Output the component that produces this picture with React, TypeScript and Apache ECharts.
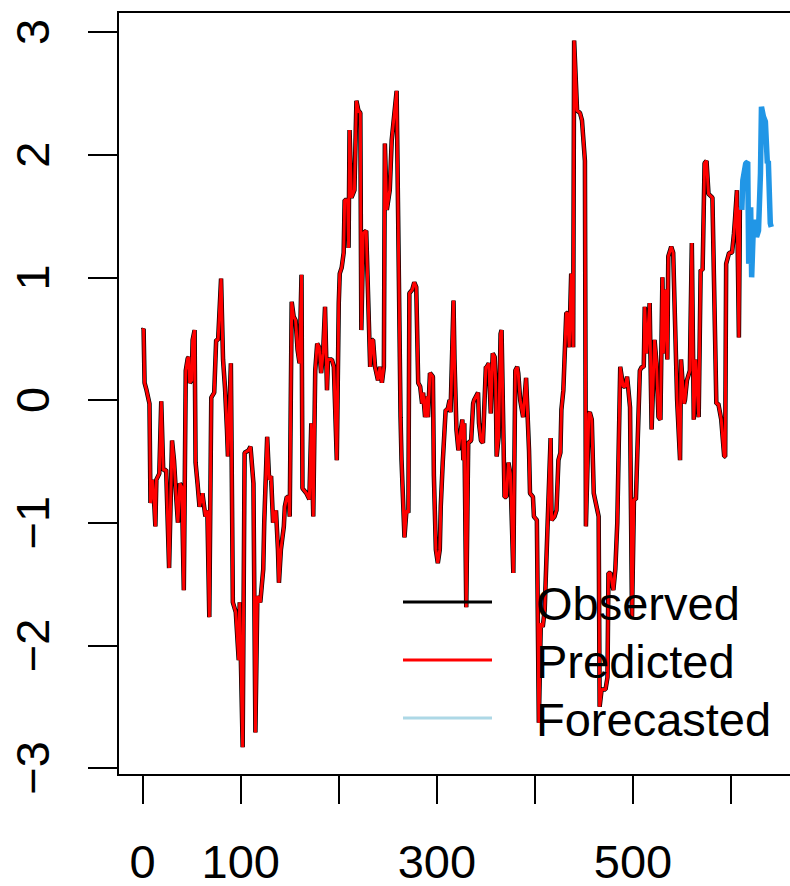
import React, { useEffect, useRef } from "react";
import * as echarts from "echarts";

const xTickValues = [0, 100, 200, 300, 400, 500, 600];
const xLabelValues = [0, 100, 300, 500];
const yTickValues = [-3, -2, -1, 0, 1, 2, 3];

const legendNames = ["Observed", "Predicted", "Forecasted"];
const legendColors = ["#000000", "#FF0000", "#ADD8E6"];

const observedPoints: [number, number][] = [
  [0, 0.57], [1, 0.58], [2, 0.14], [4, 0.08], [7, -0.03], [8, -0.84], [10, -0.65], [12, -0.87], [13, -1.03], [14, -0.65],
  [17, -0.6], [19, -0.01], [21, -0.57], [24, -0.57], [27, -1.37], [30, -0.33], [32, -0.49], [34, -0.76], [36, -1.0], [38, -0.68],
  [40, -0.71], [42, -1.55], [44, 0.24], [46, 0.34], [47, 0.35], [48, 0.14], [50, 0.16], [51, 0.49], [53, 0.57], [54, -0.51],
  [56, -0.68], [58, -0.87], [61, -0.76], [64, -0.95], [66, -0.9], [68, -1.77], [70, 0.02], [73, 0.06], [75, 0.49], [77, 0.49],
  [80, 0.99], [82, 0.33], [84, 0.1], [86, -0.24], [87, -0.46], [90, 0.3], [92, -1.65], [95, -1.73], [98, -2.12], [99, -1.65],
  [102, -2.83], [104, -0.43], [108, -0.41], [110, -0.38], [113, -0.68], [115, -2.71], [117, -1.6], [120, -1.65], [123, -1.38], [124, -1.0],
  [127, -0.3], [129, -0.65], [131, -0.62], [133, -1.0], [136, -0.9], [138, -1.22], [139, -1.49], [141, -1.22], [144, -1.03], [145, -0.87],
  [147, -0.79], [149, -0.79], [150, -0.95], [152, 0.8], [154, 0.68], [156, 0.65], [158, 0.41], [160, 0.3], [162, 1.02], [163, -0.72],
  [167, -0.76], [170, -0.81], [172, -0.19], [174, -0.95], [176, 0.24], [178, 0.46], [180, 0.43], [182, 0.22], [184, 0.38], [186, 0.76],
  [188, 0.08], [189, 0.33], [193, 0.33], [195, 0.27], [198, -0.49], [200, 0.79], [201, 1.03], [203, 1.08], [205, 1.2], [206, 1.63],
  [209, 1.63], [210, 1.24], [211, 2.2], [213, 1.65], [216, 1.71], [218, 2.44], [220, 2.36], [222, 2.34], [223, 0.57], [225, 1.36],
  [228, 1.38], [232, 0.27], [234, 0.49], [235, 0.49], [237, 0.27], [240, 0.16], [242, 0.27], [244, 0.14], [246, 0.27], [247, 2.09],
  [249, 1.55], [252, 1.71], [254, 2.12], [259, 2.52], [263, -0.14], [264, -0.49], [267, -1.12], [269, -0.9], [271, -0.92], [272, 0.87],
  [275, 0.9], [277, 0.96], [279, 0.92], [281, 0.14], [283, 0.11], [285, -0.03], [286, 0.06], [288, -0.14], [290, 0.03], [291, -0.14],
  [293, 0.22], [296, 0.19], [297, -0.62], [299, -1.22], [301, -1.33], [303, -1.22], [304, -0.87], [306, -0.51], [309, -0.08], [311, -0.08],
  [313, 0], [314, -0.1], [317, 0.81], [318, 0.33], [320, -0.24], [322, -0.41], [324, -0.27], [326, -0.16], [327, -0.49], [328, -0.19],
  [330, -1.69], [332, -0.35], [335, -0.33], [337, -0.03], [338, 0], [342, 0.06], [343, -0.19], [345, -0.33], [347, -0.35], [350, 0.27],
  [351, 0.27], [353, 0.3], [355, -0.11], [357, 0.38], [359, 0.35], [360, 0.14], [361, -0.46], [363, -0.3], [365, 0.54], [366, 0.57],
  [369, -0.79], [371, -0.79], [373, -0.51], [375, -0.6], [378, -1.41], [380, 0.24], [382, 0.27], [383, 0.22], [385, 0], [388, -0.14],
  [391, 0.18], [394, -0.41], [395, -0.76], [398, -0.79], [399, -0.95], [402, -0.98], [404, -2.63], [406, -1.82], [408, -1.85], [410, -1.71],
  [413, -1.0], [416, -0.31], [417, -0.98], [420, -0.95], [422, -0.9], [424, -0.49], [426, -0.43], [427, -0.08], [429, 0.08], [432, 0.71],
  [433, 0.71], [435, 0.43], [437, 1.03], [439, 0.43], [440, 2.93], [443, 2.36], [446, 2.34], [448, 2.28], [451, 1.95], [452, -1.03],
  [455, -0.11], [456, -0.1], [458, -0.16], [460, -0.76], [465, -0.95], [466, -2.5], [468, -2.36], [472, -2.36], [474, -2.26], [475, -1.41],
  [477, -1.41], [480, -1.55], [482, -1.38], [484, -1.0], [487, 0.27], [490, 0.11], [492, 0.11], [494, 0.19], [495, 0.11], [497, -0.06],
  [499, -1.77], [501, -0.81], [503, -0.81], [507, 0.24], [509, 0.27], [511, 0.27], [512, 0.76], [514, 0.38], [517, 0.79], [519, -0.24],
  [522, 0.49], [524, 0.3], [526, -0.14], [528, -0.16], [530, 1.0], [531, 0.38], [533, 0.9], [535, 0.33], [536, 1.17], [539, 1.25],
  [541, 1.2], [545, 0], [548, -0.49], [549, 0.33], [552, -0.03], [553, 0], [555, 0.16], [558, 0.24], [560, 1.28], [562, -0.16],
  [564, 0.33], [567, -0.14], [569, 1.06], [571, 1.06], [573, 1.93], [575, 1.95], [577, 1.68], [581, 1.65], [585, -0.03], [587, -0.03],
  [590, -0.16], [593, -0.46], [594, -0.46], [595, 1.11], [598, 1.2], [601, 1.2], [603, 1.36], [604, 1.47], [606, 1.71], [608, 0.51],
  [609, 1.57], [611, 1.55],
];

// predicted (fitted) values coincide with the observed ones at this resolution
const predictedPoints: [number, number][] = observedPoints.map((p) => [p[0], p[1]]);

const forecastPoints: [number, number][] = [
  [611, 1.55], [612, 1.79], [615, 1.93], [617, 1.94], [618, 1.11], [620, 1.57], [621, 1.0], [623, 1.47], [626, 1.33], [628, 1.38],
  [630, 1.85], [631, 2.39], [633, 2.31], [635, 2.27], [637, 1.93], [638, 1.95], [640, 1.44], [641, 1.41],
];

const FONT = "'Liberation Sans', Arial, Helvetica, sans-serif";
const FS = 47;

export default function App() {
  const ref = useRef<HTMLDivElement>(null);
  useEffect(() => {
    if (!ref.current) return;
    const chart = echarts.init(ref.current, undefined, { renderer: "svg" });
    const legendTop = 602;
    const legendStep = 58;
    const graphic: any[] = [];
    legendNames.forEach((name, i) => {
      const y = legendTop + i * legendStep;
      graphic.push({
        type: "line",
        shape: { x1: 403, y1: y, x2: 492, y2: y },
        style: { stroke: legendColors[i], lineWidth: 3 },
        z: 100,
      });
      graphic.push({
        type: "text",
        x: 536,
        y: y + 1,
        style: {
          text: name,
          fill: "#000",
          font: `${FS}px ${FONT}`,
          textAlign: "left",
          textVerticalAlign: "middle",
        },
        z: 100,
      });
    });
    chart.setOption({
      animation: false,
      backgroundColor: "#fff",
      grid: {
        left: 118,
        top: 12,
        width: 687,
        height: 763,
        show: true,
        borderColor: "#000",
        borderWidth: 2,
        backgroundColor: "transparent",
      },
      xAxis: {
        type: "value",
        min: -25.1,
        max: 675.4,
        axisLine: { show: false, onZero: false },
        splitLine: { show: false },
        axisTick: {
          show: true,
          length: 29,
          lineStyle: { color: "#000", width: 2 },
          customValues: xTickValues,
        },
        axisLabel: {
          customValues: xLabelValues,
          fontSize: FS,
          lineHeight: 40,
          fontFamily: FONT,
          color: "#000",
          margin: 66,
        },
      },
      yAxis: {
        type: "value",
        min: -3.057,
        max: 3.163,
        axisLine: { show: false, onZero: false },
        splitLine: { show: false },
        axisTick: {
          show: true,
          length: 30,
          lineStyle: { color: "#000", width: 2 },
          customValues: yTickValues,
        },
        axisLabel: {
          customValues: yTickValues,
          rotate: 90,
          fontSize: FS,
          fontFamily: FONT,
          color: "#000",
          margin: 62,
          formatter: (v: number) => (v < 0 ? "\u2212" + Math.abs(v) : String(v)),
        },
      },
      series: [
        {
          name: "Observed",
          type: "line",
          data: observedPoints,
          symbol: "none",
          lineStyle: { color: "#000", width: 4.5 },
          z: 2,
        },
        {
          name: "Predicted",
          type: "line",
          data: predictedPoints,
          symbol: "none",
          lineStyle: { color: "#FF0000", width: 3 },
          z: 3,
        },
        {
          name: "Forecasted",
          type: "line",
          data: forecastPoints,
          symbol: "none",
          lineStyle: { color: "#2196E6", width: 5.5 },
          z: 4,
        },
      ],
      graphic,
    });
    return () => chart.dispose();
  }, []);
  return (
    <div
      style={{
        position: "absolute",
        left: 0,
        top: 0,
        width: 790,
        height: 886,
        overflow: "hidden",
        background: "#fff",
      }}
    >
      <div ref={ref} style={{ width: 830, height: 886 }} />
    </div>
  );
}
